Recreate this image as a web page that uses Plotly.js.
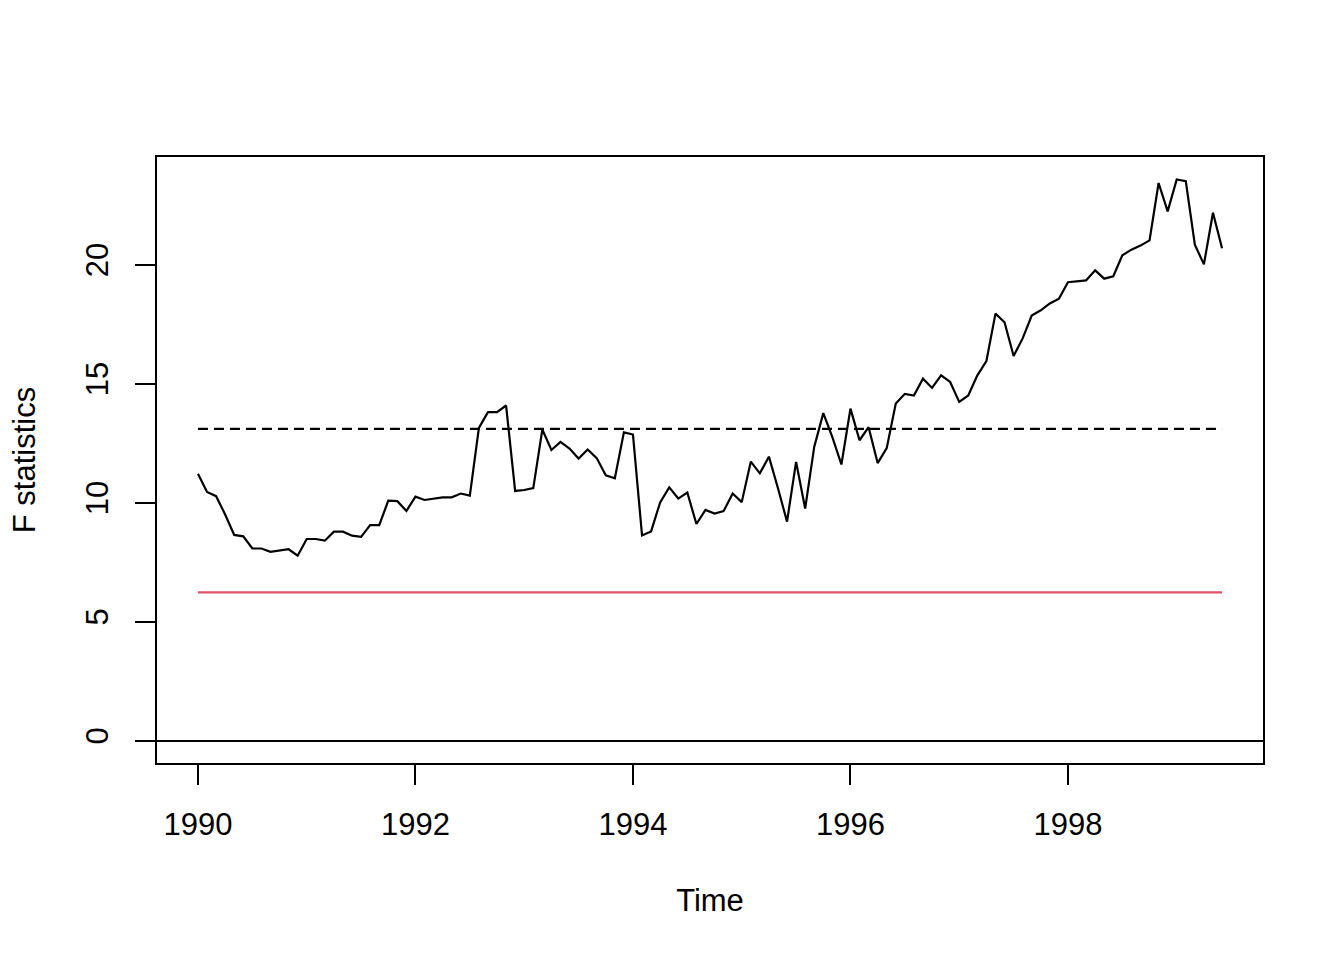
<!DOCTYPE html>
<html>
<head>
<meta charset="utf-8">
<script src="https://cdn.plot.ly/plotly-3.0.1.min.js"></script>
<style>
  html, body { margin: 0; padding: 0; background: #fff; }
  #plot { width: 1344px; height: 960px; }
</style>
</head>
<body>
<div id="plot"></div>
<script>
// monthly series, starts Jan 1990
let start_year = 1990
let freq = 12

// F statistics, one value per month
let f_stats = [
  11.21, 10.45, 10.27, 9.50, 8.64, 8.58, 8.07, 8.07, 7.93, 7.97, 8.04, 7.77,
  8.47, 8.47, 8.40, 8.78, 8.78, 8.61, 8.56, 9.05, 9.05, 10.08, 10.06, 9.65,
  10.25, 10.11, 10.15, 10.22, 10.22, 10.38, 10.29, 13.14, 13.80, 13.80, 14.08, 10.49,
  10.53, 10.61, 13.07, 12.21, 12.55, 12.27, 11.85, 12.23, 11.87, 11.15, 11.02, 12.95,
  12.86, 8.62, 8.79, 10.01, 10.64, 10.17, 10.42, 9.10, 9.69, 9.54, 9.64, 10.38,
  10.02, 11.72, 11.23, 11.93, 10.60, 9.20, 11.71, 9.75, 12.34, 13.76, 12.75, 11.60,
  13.95, 12.62, 13.17, 11.66, 12.29, 14.16, 14.57, 14.50, 15.21, 14.82, 15.35, 15.07,
  14.23, 14.50, 15.35, 15.95, 17.94, 17.58, 16.16, 16.90, 17.86, 18.08, 18.37, 18.57,
  19.26, 19.30, 19.34, 19.76, 19.41, 19.51, 20.39, 20.63, 20.80, 21.02, 23.43, 22.24,
  23.58, 23.51, 20.84, 20.01, 22.18, 20.69
]

let boundary_dashed = 13.10   // dashed critical value
let boundary_red = 6.23       // red critical value

let x_ticks = [1990, 1992, 1994, 1996, 1998]
let y_ticks = [0, 5, 10, 15, 20]

let times = []
for (let i = 0; i < f_stats.length; i++) {
  times.push(start_year + i / freq)
}
let t_first = times[0]
let t_last = times[times.length - 1]

// R style 4% padding on both axes
let pad_x = 0.04 * (t_last - t_first)
let y_min = 0
let y_max = Math.max(...f_stats)
let pad_y = 0.04 * (y_max - y_min)

let font_family = '"Liberation Sans", Arial, Helvetica, sans-serif'
let font_size = 31

let fstat_trace = {
  x: times,
  y: f_stats,
  mode: 'lines',
  type: 'scatter',
  line: { color: '#000000', width: 2.2 },
  name: 'F statistics'
}

let dashed_trace = {
  x: [t_first, t_last],
  y: [boundary_dashed, boundary_dashed],
  mode: 'lines',
  type: 'scatter',
  line: { color: '#000000', width: 2.2, dash: '10px,6px' },
  name: 'boundary'
}

let red_trace = {
  x: [t_first, t_last],
  y: [boundary_red, boundary_red],
  mode: 'lines',
  type: 'scatter',
  line: { color: '#DF536B', width: 2.2 },
  name: 'boundary 2'
}

let layout = {
  width: 1344,
  height: 960,
  margin: { l: 157, r: 81, t: 157, b: 197, pad: 0 },
  paper_bgcolor: '#ffffff',
  plot_bgcolor: '#ffffff',
  showlegend: false,
  font: { family: font_family, size: font_size, color: '#000000' },
  xaxis: {
    range: [t_first - pad_x, t_last + pad_x],
    tickmode: 'array',
    tickvals: x_ticks,
    ticktext: x_ticks.map(String),
    ticks: 'outside',
    ticklen: 20,
    tickwidth: 2,
    tickcolor: '#000000',
    ticklabelstandoff: 13,
    showline: true,
    mirror: true,
    linecolor: '#000000',
    linewidth: 2,
    showgrid: false,
    zeroline: false,
    automargin: false,
    title: { text: 'Time', font: { size: font_size }, standoff: 48 }
  },
  yaxis: {
    range: [y_min - pad_y, y_max + pad_y],
    tickmode: 'array',
    tickvals: y_ticks,
    ticktext: y_ticks.map(String),
    tickangle: -90,
    ticks: 'outside',
    ticklen: 20,
    tickwidth: 2,
    tickcolor: '#000000',
    ticklabelstandoff: 15,
    showline: true,
    mirror: true,
    linecolor: '#000000',
    linewidth: 2,
    showgrid: false,
    zeroline: true,
    zerolinecolor: '#000000',
    zerolinewidth: 2,
    automargin: false,
    title: { text: 'F statistics', font: { size: font_size }, standoff: 35 }
  }
}

Plotly.newPlot('plot', [red_trace, dashed_trace, fstat_trace], layout, { staticPlot: true, displayModeBar: false })
</script>
</body>
</html>
